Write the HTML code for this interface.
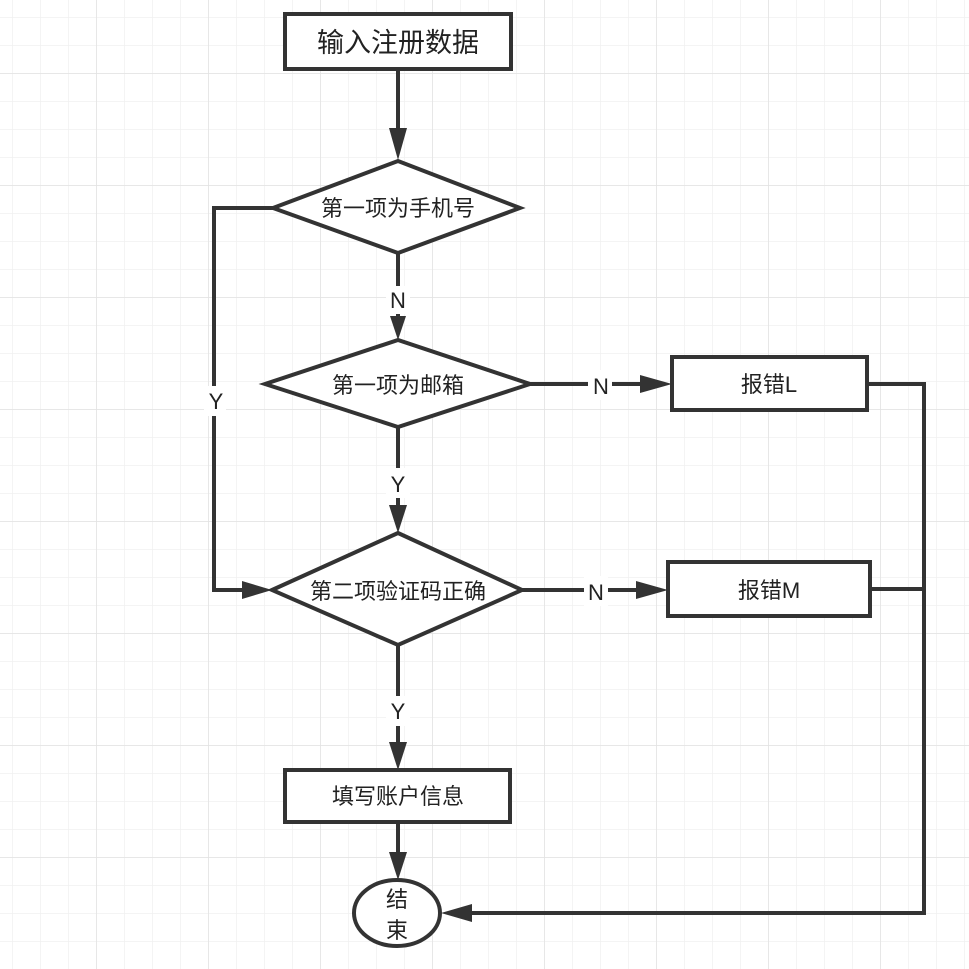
<!DOCTYPE html>
<html><head><meta charset="utf-8"><style>
html,body{margin:0;padding:0;background:#fff;}
svg{display:block;}
text{font-family:"Liberation Sans","Noto Sans CJK SC",sans-serif;fill:#222;}
</style></head><body>
<svg width="969" height="969" viewBox="0 0 969 969" xmlns="http://www.w3.org/2000/svg">
<defs>
<pattern id="minor" x="12" y="17" width="28" height="28" patternUnits="userSpaceOnUse">
<path d="M0 0V28M0 0H28" stroke="#f0f0f0" stroke-width="1.5" fill="none"/>
</pattern>
<pattern id="major" x="96" y="73" width="112" height="112" patternUnits="userSpaceOnUse">
<path d="M0 0V112M0 0H112" stroke="#e2e2e2" stroke-width="1.5" fill="none"/>
</pattern>
<marker id="ar" viewBox="0 0 10 10" refX="10" refY="5" markerWidth="10" markerHeight="10" markerUnits="userSpaceOnUse" orient="auto">
</marker>
</defs>
<rect width="969" height="969" fill="#fff"/>
<rect width="969" height="969" fill="url(#minor)"/>
<rect width="969" height="969" fill="url(#major)"/>
<g stroke="#333" stroke-width="4" fill="none">
<!-- connectors -->
<path d="M398 69V128"/>
<path d="M398 253V316"/>
<path d="M398 427V505"/>
<path d="M398 645V742"/>
<path d="M398 822V852"/>
<path d="M273 208H214V590H242"/>
<path d="M530 384H640"/>
<path d="M522 590H636"/>
<path d="M867 384H924V913H472"/>
<path d="M870 589H924"/>
</g>
<g fill="#333">
<polygon points="389,128 407,128 398,160"/>
<polygon points="390,316 406,316 398,340"/>
<polygon points="389,505 407,505 398,533"/>
<polygon points="389,742 407,742 398,770"/>
<polygon points="389,852 407,852 398,880"/>
<polygon points="242,581 242,599 272,590"/>
<polygon points="640,375 640,393 672,384"/>
<polygon points="636,581 636,599 668,590"/>
<polygon points="472,904 472,922 441,913"/>
</g>
<g stroke="#333" stroke-width="4" fill="#fff">
<rect x="285" y="14" width="226" height="55"/>
<polygon points="273,208 398,161 520,208 398,253"/>
<polygon points="265,384 398,340 530,384 398,427"/>
<polygon points="272,590 398,533 522,590 398,645"/>
<rect x="672" y="357" width="195" height="53"/>
<rect x="668" y="562" width="202" height="54"/>
<rect x="285" y="770" width="225" height="52"/>
<ellipse cx="397" cy="913" rx="43" ry="33"/>
</g>
<g fill="#fff">
<rect x="386" y="286" width="24" height="28"/>
<rect x="386" y="468" width="24" height="30"/>
<rect x="386" y="696" width="24" height="30"/>
<rect x="204" y="386" width="22" height="30"/>
<rect x="588" y="370" width="24" height="30"/>
<rect x="584" y="576" width="24" height="30"/>
</g>
<g text-anchor="middle" font-size="22">
<text x="398" y="52" font-size="27">输入注册数据</text>
<text x="398" y="216">第一项为手机号</text>
<text x="398" y="393">第一项为邮箱</text>
<text x="398" y="599">第二项验证码正确</text>
<text x="769" y="392">报错L</text>
<text x="769" y="598">报错M</text>
<text x="398" y="804">填写账户信息</text>
<text x="397" y="907">结</text>
<text x="397" y="938">束</text>
<text x="398" y="308">N</text>
<text x="398" y="492">Y</text>
<text x="398" y="719">Y</text>
<text x="216" y="409">Y</text>
<text x="601" y="394">N</text>
<text x="596" y="600">N</text>
</g>
</svg>
</body></html>
